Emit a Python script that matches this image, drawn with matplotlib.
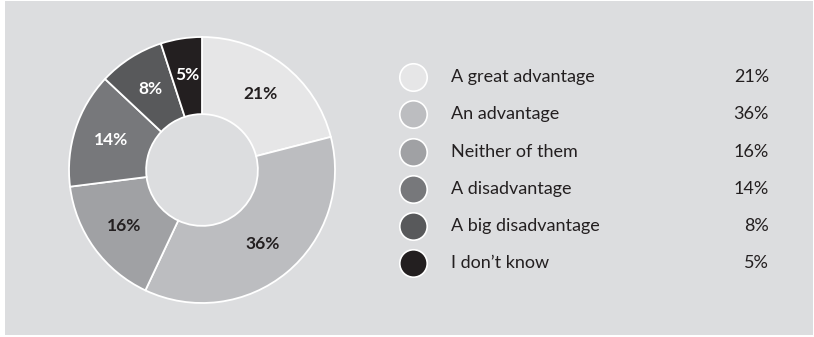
import matplotlib.pyplot as plt
from matplotlib.patches import Rectangle

categories = ["A great advantage", "An advantage", "Neither of them",
              "A disadvantage", "A big disadvantage", "I don\u2019t know"]
shares = [21, 36, 16, 14, 8, 5]
colours = ["#e6e6e7", "#bcbdc0", "#a0a1a4", "#77787b", "#58595b", "#231f20"]
label_colours = ["#231f20", "#231f20", "#231f20", "white", "white", "white"]

bg = "#dcdddf"
ink = "#231f20"
plt.rcParams["font.family"] = ["Lato", "DejaVu Sans"]

fig = plt.figure(figsize=(8.14, 3.37), dpi=100)
fig.patch.set_facecolor("white")
fig.patches.append(Rectangle((5 / 814, 2 / 337), 808 / 814, 334 / 337,
                             transform=fig.transFigure, facecolor=bg,
                             edgecolor="none", zorder=-10))

# donut: centre (202, 170) px, outer radius 133 px
r_px = 133
ax = fig.add_axes([(202 - r_px) / 814, (337 - 170 - r_px) / 337,
                   2 * r_px / 814, 2 * r_px / 337])
ax.set_facecolor("none")
wedges, texts, autotexts = ax.pie(
    shares, colors=colours, startangle=90, counterclock=False,
    autopct=lambda p: f"{p:.0f}%", pctdistance=0.72,
    wedgeprops=dict(width=0.58, edgecolor="white", linewidth=1.3),
    textprops=dict(fontsize=12.5, fontweight="bold"))
for t, c in zip(autotexts, label_colours):
    t.set_color(c)
ax.set_xlim(-1, 1)
ax.set_ylim(-1, 1)
ax.set_aspect("equal")

# legend drawn in pixel coordinates
lg = fig.add_axes([0, 0, 1, 1])
lg.set_xlim(0, 814)
lg.set_ylim(337, 0)
lg.axis("off")
lg.patch.set_alpha(0)
row_y = [77, 114, 152, 189, 226, 263]
for y, name, val, col in zip(row_y, categories, shares, colours):
    lg.scatter(413, y, s=390, color=col, edgecolor="white", linewidth=1.2)
    lg.text(451, y, name, fontsize=13, color=ink, va="center", ha="left")
    lg.text(769, y, f"{val}%", fontsize=13, color=ink, va="center", ha="right")

fig.savefig("out.png", dpi=100, facecolor=fig.get_facecolor())
